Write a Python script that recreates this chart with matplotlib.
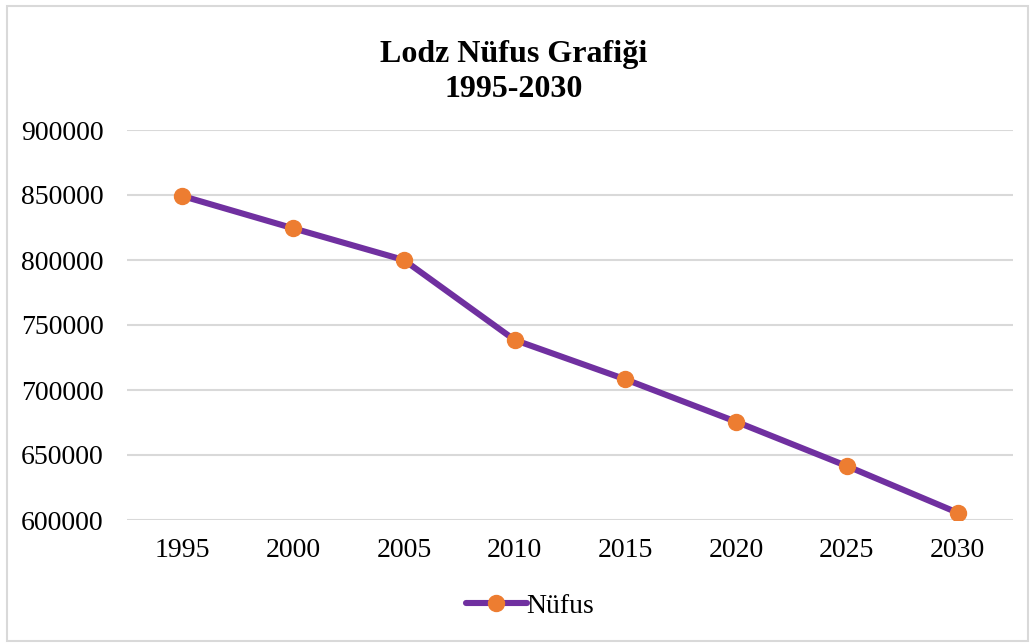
import matplotlib
matplotlib.use("Agg")
import matplotlib.pyplot as plt
from matplotlib.patches import Rectangle

years = ["1995", "2000", "2005", "2010", "2015", "2020", "2025", "2030"]
population = [849200, 824400, 800000, 738500, 708200, 675600, 641500, 605600]
yticks = [600000, 650000, 700000, 750000, 800000, 850000, 900000]
series_name = "Nüfus"
title = "Lodz Nüfus Grafiği\n1995-2030"

plt.rcParams['font.family'] = ['Liberation Serif', 'DejaVu Serif']

W, H = 1035, 643
fig = plt.figure(figsize=(W / 100, H / 100), dpi=100)
ax = fig.add_axes([127 / W, 1 - 520 / H, (1013 - 127) / W, (520 - 130) / H])

x = list(range(len(years)))
ax.plot(x, population, color="#7030A0", lw=4.4, marker="o", markersize=11.5,
        markerfacecolor="#ED7D31", markeredgecolor="#ED7D31", label=series_name,
        solid_capstyle="round", zorder=3)

ax.set_xlim(-0.5, len(years) - 0.5)
ax.set_ylim(600000, 900000)
ax.set_yticks(yticks)
ax.set_yticklabels([str(v) for v in yticks], fontsize=20)
ax.set_xticks(x)
ax.set_xticklabels(years, fontsize=20)
ax.tick_params(axis="both", length=0)
ax.tick_params(axis="y", pad=17)
ax.tick_params(axis="x", pad=13)
ax.grid(axis="y", color="#D9D9D9", lw=1.5)
ax.set_axisbelow(True)
for s in ax.spines.values():
    s.set_visible(False)

fig.text(514 / W, 1 - 72 / H, title, ha="center", va="center", fontsize=23,
         fontweight="bold", linespacing=1.3)

leg = fig.legend(loc="center", bbox_to_anchor=(530 / W, 1 - 606 / H), frameon=False,
                 fontsize=20, handlelength=2.2, handletextpad=0.0)

fig.patches.append(Rectangle((7 / W, 2 / H), (1028 - 7) / W, (637 - 2) / H,
                             transform=fig.transFigure, fill=False,
                             edgecolor="#D9D9D9", lw=1.5))

fig.savefig("out.png", dpi=100, facecolor="white")
